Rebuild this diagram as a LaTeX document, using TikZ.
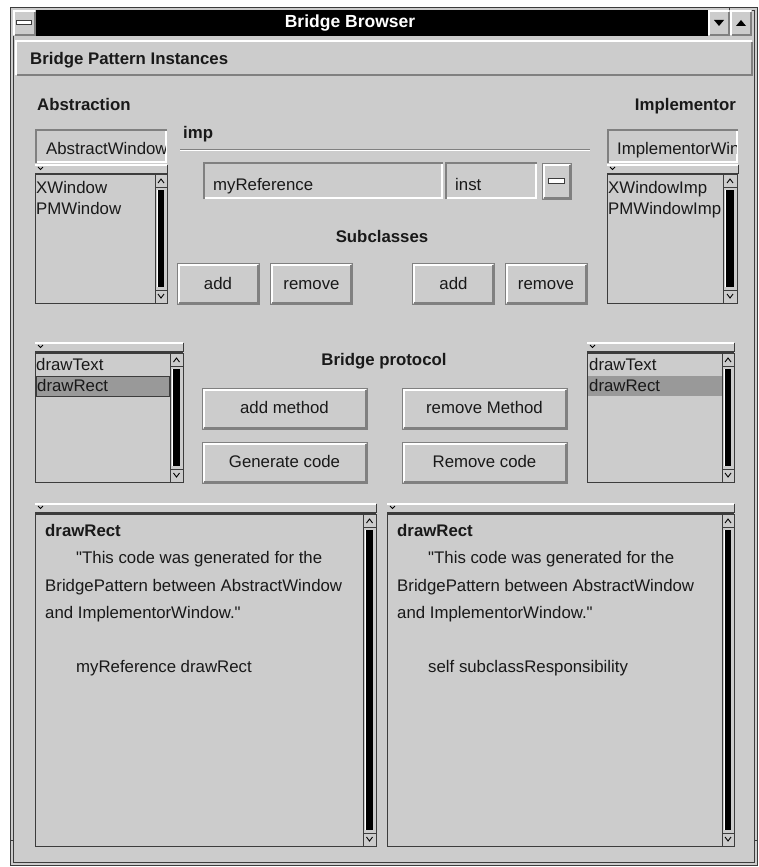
\documentclass[tikz,border=0pt]{standalone}
\usepackage{fontspec}
\setmainfont{Liberation Sans}[Ligatures=TeXOff]
\usepackage{tikz}
\usetikzlibrary{positioning}
\usepackage{xcolor}

\definecolor{guigrey}{RGB}{204,204,204}
\definecolor{guimid}{RGB}{128,128,128}
\definecolor{guidark}{RGB}{60,60,60}
\definecolor{guisel}{RGB}{153,153,153}
\definecolor{guitext}{RGB}{25,25,25}

\tikzset{
  guitxt/.style={font=\fontsize{16.8}{20}\selectfont, text=guitext, inner sep=0pt, anchor=base west},
  guibold/.style={guitxt, font=\fontsize{16.8}{20}\selectfont\bfseries},
  guibutton/.style={rectangle, fill=guigrey, draw=guimid, line width=.8pt, inner sep=0pt, outer sep=0pt,
                    text height=13pt, text depth=3pt,
                    font=\fontsize{16.8}{20}\selectfont, text=guitext},
  hilite/.style={white, line width=2pt},
  lowlite/.style={guimid, line width=2pt}
}

% sunken entry field
\newcommand{\guisunken}[4]{
  \fill[guigrey] (#1,#2) rectangle (#3,#4);
  \draw[guimid, line width=2pt] (#1+1,#4) -- (#1+1,#2+1) -- (#3,#2+1);
  \draw[white, line width=2pt] (#1+2,#4-1) -- (#3-1,#4-1) -- (#3-1,#2+2);
}
% raised panel
\newcommand{\guiraised}[4]{
  \fill[guigrey] (#1,#2) rectangle (#3,#4);
  \draw[white, line width=2pt] (#1+1,#4-1) -- (#1+1,#2+1) -- (#3-1,#2+1);
  \draw[guimid, line width=2pt] (#1+2,#4-1) -- (#3-1,#4-1) -- (#3-1,#2+2);
}
% vertical scroll bar
\newcommand{\guiscroll}[4]{
  \draw[guidark, fill=guigrey] (#1,#2) rectangle (#3,#4);
  \draw[guidark] (#1,#2+13) -- (#3,#2+13);
  \draw[guidark] (#1,#4-13) -- (#3,#4-13);
  \fill[black] (#1+3,#2+16) rectangle (#3-3,#4-16);
  \draw[white] (#1+2.5,#2+16) -- (#1+2.5,#4-16);
  \draw[black, line width=.9pt] ({(#1+#3)/2-3},#2+9) -- ({(#1+#3)/2},#2+5) -- ({(#1+#3)/2+3},#2+9);
  \draw[black, line width=.9pt] ({(#1+#3)/2-3},#4-9) -- ({(#1+#3)/2},#4-5) -- ({(#1+#3)/2+3},#4-9);
}
% list header strip
\newcommand{\guihead}[3]{
  \draw[white, line width=1.5pt] (#1,#2) -- (#3,#2);
  \draw[guidark, line width=1.5pt] (#1,#2+9) -- (#3,#2+9);
  \draw[guidark] (#3,#2) -- (#3,#2+9);
  \draw[black, line width=.9pt] (#1+3,#2+2) -- (#1+5.5,#2+4.5) -- (#1+8,#2+2);
}

\begin{document}
\begin{tikzpicture}[x=1pt, y=-1pt]
  \useasboundingbox[fill=white] (0,0) rectangle (759,867);

  % window frame
  \draw[guidark, fill=guigrey] (10,7) rectangle (757,865);
  \draw[guidark] (13,10) rectangle (754,862);
  \draw[guidark] (10,840) -- (13,840);
  \draw[guidark] (754,840) -- (757,840);
  \draw[guidark] (729,7) -- (729,10);

  % title bar
  \fill[black] (36,10) rectangle (708,36);
  \node[font=\fontsize{17.5}{20}\selectfont\bfseries, text=white, inner sep=0pt, anchor=base] (title) at (350,28) {Bridge Browser};
  \guiraised{13}{10}{36}{36}
  \draw[guidark, fill=white] (16,20) rectangle (31,24);
  \guiraised{708}{10}{730}{36}
  \guiraised{730}{10}{752}{36}
  \fill[black] (714,20) -- (724,20) -- (719,26) -- cycle;
  \fill[black] (736,26) -- (746,26) -- (741,20) -- cycle;

  % instances bar
  \guiraised{15}{40}{753}{76}
  \node[guibold] (instances) at (30,65) {Bridge Pattern Instances};

  \node[guibold] (abstraction) at (37,110) {Abstraction};
  \node[guibold, anchor=base east] (implementor) at (736,110) {Implementor};
  \node[guibold] (imp) at (183,138) {imp};
  \draw[guimid] (180,149) -- (590,149);
  \draw[white] (180,150.5) -- (590,150.5);

  % abstraction class chooser
  \guisunken{35}{129}{167}{163}
  \begin{scope}
    \clip (37,131) rectangle (165,161);
    \node[guitxt] (absField) at (46,154) {AbstractWindow};
  \end{scope}
  \guihead{35}{165}{167}
  \draw[guidark] (35,174) rectangle (155,303);
  \guiscroll{155}{174}{167}{303}
  \node[guitxt] (xWin) at (36,193) {XWindow};
  \node[guitxt] (pmWin) at (36,214) {PMWindow};

  % implementor class chooser
  \guisunken{607}{129}{738}{163}
  \begin{scope}
    \clip (609,131) rectangle (736,161);
    \node[guitxt] (impField) at (617,154) {ImplementorWindow};
  \end{scope}
  \guihead{607}{165}{738}
  \draw[guidark] (607,174) rectangle (723,303);
  \guiscroll{723}{174}{737}{303}
  \begin{scope}
    \clip (608,175) rectangle (722,302);
    \node[guitxt] (xWinImp) at (608,193) {XWindowImp};
    \node[guitxt] (pmWinImp) at (608,214) {PMWindowImp};
  \end{scope}

  % reference fields
  \guisunken{203}{162}{443}{199}
  \node[guitxt] (refField) at (213,190) {myReference};
  \guisunken{445}{162}{537}{199}
  \node[guitxt] (instField) at (455,190) {inst};
  \node[guibutton, minimum width=29pt, minimum height=36pt] (instBtn) at (556.5,181) {};

  \node[guibold, anchor=base] (subclasses) at (382,242) {Subclasses};
  \node[guibutton, minimum width=82pt, minimum height=41pt] (addAbs)    at (218,284)   {add};
  \node[guibutton, minimum width=82pt, minimum height=41pt] (removeAbs) at (311.5,284) {remove};
  \node[guibutton, minimum width=82pt, minimum height=41pt] (addImp)    at (453.5,284) {add};
  \node[guibutton, minimum width=82pt, minimum height=41pt] (removeImp) at (546,284)   {remove};

  % protocol lists
  \guihead{35}{343}{183}
  \draw[guidark] (35,353) rectangle (170,482);
  \guiscroll{170}{353}{183}{482}
  \node[guitxt] (textA) at (36,370) {drawText};
  \draw[guidark, fill=guisel] (36,376) rectangle (169,396);
  \node[guitxt] (rectA) at (37,391) {drawRect};

  \guihead{587}{343}{734}
  \draw[guidark] (587,353) rectangle (722,482);
  \guiscroll{722}{353}{734}{482}
  \node[guitxt] (textB) at (589,370) {drawText};
  \fill[guisel] (588,376) rectangle (721.5,396);
  \node[guitxt] (rectB) at (589,391) {drawRect};

  \node[guibold, anchor=base] (protocol) at (384,365) {Bridge protocol};
  \node[guibutton, minimum width=165pt, minimum height=41pt] (addMethod)    at (284.5,408.5) {add method};
  \node[guibutton, minimum width=165pt, minimum height=41pt] (genCode)      at (284.5,462.5) {Generate code};
  \node[guibutton, minimum width=165pt, minimum height=41pt] (removeMethod) at (484.5,408.5) {remove Method};
  \node[guibutton, minimum width=165pt, minimum height=41pt] (removeCode)   at (484.5,462.5) {Remove code};

  \foreach \b in {instBtn, addAbs, removeAbs, addImp, removeImp, addMethod, genCode, removeMethod, removeCode}
  {
    \draw[hilite] ([xshift=1.5pt, yshift=1.5pt]\b.south west) |- ([xshift=-1.5pt, yshift=-1.5pt]\b.north east);
    \draw[lowlite] ([xshift=1.5pt, yshift=1.5pt]\b.south west) -| ([xshift=-1.5pt, yshift=-1.5pt]\b.north east);
  }
  \draw[guidark, fill=white] (548,178) rectangle (564,183);

  % code panes
  \guihead{35}{504}{376}
  \draw[guidark] (35,514) rectangle (363,846);
  \guiscroll{363}{514}{376}{846}
  \node[guibold] (codeA)     at (45,536) {drawRect};
  \node[guitxt]  (commentA1) at (76,563) {"This code was generated for the};
  \node[guitxt]  (commentA2) at (45,591) {BridgePattern between AbstractWindow};
  \node[guitxt]  (commentA3) at (45,618) {and ImplementorWindow."};
  \node[guitxt]  (bodyA)     at (76,672) {myReference drawRect};

  \guihead{387}{504}{734}
  \draw[guidark] (387,514) rectangle (722,846);
  \guiscroll{722}{514}{734}{846}
  \node[guibold] (codeB)     at (397,536) {drawRect};
  \node[guitxt]  (commentB1) at (428,563) {"This code was generated for the};
  \node[guitxt]  (commentB2) at (397,591) {BridgePattern between AbstractWindow};
  \node[guitxt]  (commentB3) at (397,618) {and ImplementorWindow."};
  \node[guitxt]  (bodyB)     at (428,672) {self subclassResponsibility};
\end{tikzpicture}
\end{document}
